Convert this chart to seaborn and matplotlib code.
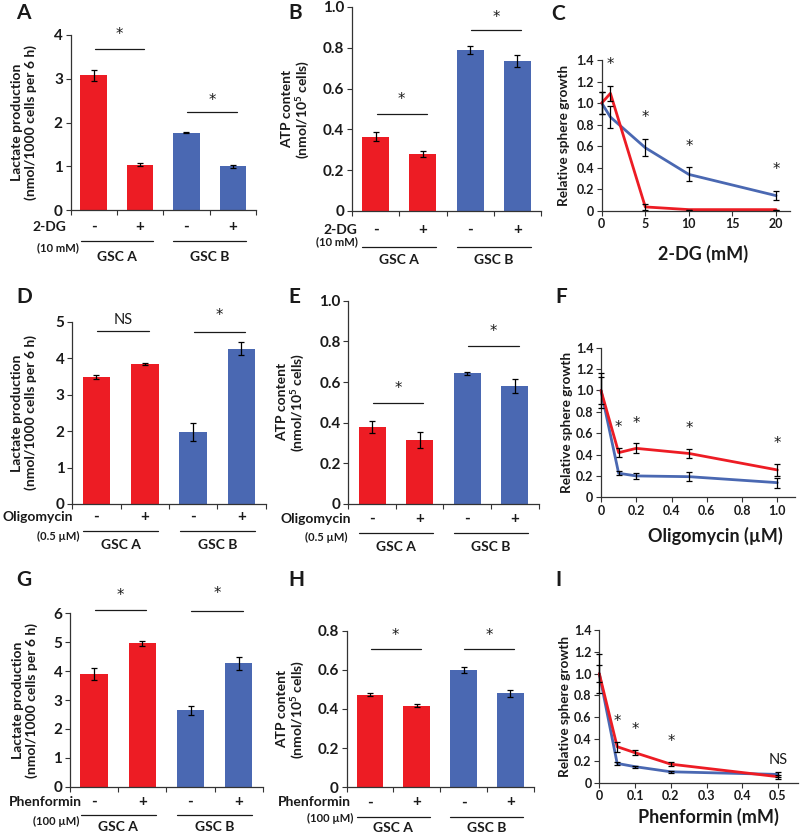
import matplotlib
matplotlib.use("Agg")
import matplotlib.pyplot as plt
import matplotlib.transforms as mtransforms
import numpy as np
import pandas as pd
import seaborn as sns

sns.set_theme(style="ticks")
plt.rcParams["font.family"] = ["Lato", "DejaVu Sans"]
plt.rcParams["font.weight"] = "bold"
plt.rcParams["mathtext.fontset"] = "custom"
plt.rcParams["mathtext.rm"] = "Lato:bold"
plt.rcParams["mathtext.it"] = "Lato:bold"
plt.rcParams["mathtext.bf"] = "Lato:bold"

RED = "#ED1C24"
BLUE = "#4A68B2"
INK = "#1a1a1a"

# ---- data ----
conds = ["A-", "A+", "B-", "B+"]
cell_line = ["GSC A", "GSC A", "GSC B", "GSC B"]
signs = ["-", "+", "-", "+"]
groups = ["GSC A", "GSC B"]

lac_2dg = [3.08, 1.04, 1.77, 1.00]
lac_2dg_err = [0.13, 0.04, 0.01, 0.03]
atp_2dg = [0.363, 0.281, 0.789, 0.737]
atp_2dg_err = [0.022, 0.015, 0.018, 0.030]

lac_oligo = [3.49, 3.83, 1.98, 4.26]
lac_oligo_err = [0.06, 0.03, 0.25, 0.18]
atp_oligo = [0.377, 0.315, 0.643, 0.580]
atp_oligo_err = [0.030, 0.040, 0.007, 0.036]

lac_phen = [3.91, 4.96, 2.64, 4.27]
lac_phen_err = [0.21, 0.075, 0.15, 0.22]
atp_phen = [0.473, 0.417, 0.599, 0.480]
atp_phen_err = [0.007, 0.009, 0.017, 0.017]

dose_2dg = [0, 1, 5, 10, 20]
sph_2dg_a = [1.0, 1.09, 0.035, 0.01, 0.01]
sph_2dg_a_err = [0.10, 0.07, 0.03, 0.0, 0.0]
sph_2dg_b = [1.0, 0.87, 0.585, 0.337, 0.14]
sph_2dg_b_err = [0.10, 0.10, 0.08, 0.065, 0.04]
star_2dg = [1.36, 0.87, 0.60, 0.38]

dose_oligo = [0, 0.1, 0.2, 0.5, 1.0]
sph_oligo_a = [1.0, 0.418, 0.458, 0.41, 0.256]
sph_oligo_a_err = [0.16, 0.044, 0.047, 0.044, 0.055]
sph_oligo_b = [1.0, 0.225, 0.20, 0.193, 0.137]
sph_oligo_b_err = [0.13, 0.02, 0.03, 0.04, 0.047]
star_oligo = [0.65, 0.69, 0.64, 0.50]

dose_phen = [0, 0.05, 0.1, 0.2, 0.5]
sph_phen_a = [1.0, 0.33, 0.275, 0.17, 0.055]
sph_phen_a_err = [0.18, 0.045, 0.025, 0.02, 0.02]
sph_phen_b = [1.0, 0.177, 0.147, 0.10, 0.076]
sph_phen_b_err = [0.08, 0.015, 0.01, 0.01, 0.025]
star_phen = [0.56, 0.49, 0.375]

fig = plt.figure(figsize=(8, 8.35), dpi=100)
W, H = 800, 835


def make_ax(left, right, top, bottom):
    ax = fig.add_axes([left / W, 1 - bottom / H, (right - left) / W, (bottom - top) / H])
    sns.despine(ax=ax)
    for s in ["left", "bottom"]:
        ax.spines[s].set_color("#333333")
        ax.spines[s].set_linewidth(0.9)
    ax.tick_params(direction="out", length=3.5, width=0.8, color="#333333",
                   pad=2, labelcolor=INK)
    ax.set_facecolor("white")
    return ax


def ylab(ax, text, right_px, left_px, width_px, size):
    ax.set_ylabel(text, fontsize=size, fontweight="bold", color=INK, linespacing=1.1)
    ax.yaxis.set_label_coords((right_px - left_px) / width_px, 0.5)


def below(ax, x, dy, text, size, ha="center", dx=0, axes_x=False, weight="bold"):
    if axes_x:
        xy, xyc = (0, 0), "axes fraction"
    else:
        xy, xyc = (x, 0), ("data", "axes fraction")
    ax.annotate(text, xy=xy, xycoords=xyc, xytext=(dx * 0.72, -dy * 0.72),
                textcoords="offset points", ha=ha, va="center", fontsize=size,
                fontweight=weight, color=INK, annotation_clip=False)


def sig_mark(ax, x, y, mark):
    if mark == "*":
        ax.text(x, y, mark, ha="center", va="center", fontsize=10.5,
                family="DejaVu Sans", fontweight="normal", color=INK, clip_on=False)
    else:
        ax.text(x, y, mark, ha="center", va="center", fontsize=10.5,
                fontweight="normal", color=INK, clip_on=False)


def bar_panel(box, vals, errs, yticks, ytl, ylabel, lab_right, treat, conc, sig, lay, tick_size=11):
    left, right, top, bottom = box
    ax = make_ax(left, right, top, bottom)
    df = pd.DataFrame({"cond": conds, "val": vals, "line": cell_line})
    sns.barplot(data=df, x="cond", y="val", hue="line", palette=[RED, BLUE],
                dodge=False, width=0.57, errorbar=None, legend=False, ax=ax,
                saturation=1, edgecolor="none")
    ax.errorbar(range(4), vals, yerr=errs, fmt="none", ecolor="black",
                elinewidth=0.9, capsize=2.3, capthick=0.9, zorder=3)
    ax.set_xlim(-0.5, 3.5)
    ax.set_ylim(yticks[0], yticks[-1])
    ax.set_yticks(yticks, ytl)
    ax.set_xticks([-0.5, 0.5, 1.5, 2.5, 3.5], [""] * 5)
    ax.set_xlabel("")
    ax.tick_params(axis="y", labelsize=tick_size)
    for t in ax.get_yticklabels():
        t.set_fontweight("bold")
    ylab(ax, ylabel, lab_right, left, right - left, 10)

    d_sign, d_name, d_conc, d_line, d_grp, dx_name, dx_conc = lay
    for i, s in enumerate(signs):
        below(ax, i, d_sign, s, 11)
    below(ax, 0, d_name, treat, 10, ha="right", dx=dx_name, axes_x=True)
    below(ax, 0, d_conc, conc, 8, ha="right", dx=dx_conc, axes_x=True)
    trans = mtransforms.blended_transform_factory(ax.transData, ax.transAxes) + \
        mtransforms.ScaledTranslation(0, -d_line / 100, fig.dpi_scale_trans)
    for g, x0 in zip(groups, [0, 2]):
        ax.plot([x0 - 0.28, x0 + 1.28], [0, 0], transform=trans, color=INK,
                lw=0.9, clip_on=False)
        below(ax, x0 + 0.5, d_grp, g, 10)

    for x0, (yl, ys, mark) in zip([0, 2], sig):
        ax.plot([x0 + 0.02, x0 + 1.08], [yl, yl], color=INK, lw=0.9, clip_on=False)
        sig_mark(ax, x0 + 0.55, ys, mark)
    return ax


def line_panel(box, dose, a, a_err, b, b_err, xmax, xticks, xtl, xlabel, xl_pos, lab_right, stars, star_x):
    left, right, top, bottom = box
    ax = make_ax(left, right, top, bottom)
    df = pd.DataFrame({"dose": dose * 2, "val": b + a,
                       "line": ["GSC B"] * len(dose) + ["GSC A"] * len(dose)})
    sns.lineplot(data=df, x="dose", y="val", hue="line", palette=[BLUE, RED],
                 lw=2.0, legend=False, ax=ax, clip_on=False)
    ax.errorbar(dose, b, yerr=b_err, fmt="none", ecolor="black", elinewidth=0.9,
                capsize=2.2, capthick=0.9, zorder=3, clip_on=False)
    ax.errorbar(dose, a, yerr=a_err, fmt="none", ecolor="black", elinewidth=0.9,
                capsize=2.2, capthick=0.9, zorder=3, clip_on=False)
    ax.set_xlim(0, xmax)
    ax.set_ylim(0, 1.4)
    yt = [0, 0.2, 0.4, 0.6, 0.8, 1.0, 1.2, 1.4]
    ax.set_yticks(yt, ["0", "0.2", "0.4", "0.6", "0.8", "1.0", "1.2", "1.4"])
    ax.set_xticks(xticks, xtl)
    ax.tick_params(labelsize=9)
    for t in ax.get_yticklabels() + ax.get_xticklabels():
        t.set_fontweight("bold")
    ax.set_ylabel("")
    ylab(ax, "Relative sphere growth", lab_right, left, right - left, 9.8)
    ax.set_xlabel(xlabel, fontsize=13, fontweight="bold", color=INK)
    ax.xaxis.label.set_va("center")
    ax.xaxis.set_label_coords(xl_pos[0], -xl_pos[1] / (bottom - top))
    for x, (mark, y) in zip(star_x, stars):
        sig_mark(ax, x, y, mark)
    return ax


lac_label = "Lactate production\n(nmol/1000 cells per 6 h)"
atp_label = "ATP content\n(nmol/10$^{5}$ cells)"
frac_ticks = [0, 0.2, 0.4, 0.6, 0.8, 1.0]
frac_tl = ["0", "0.2", "0.4", "0.6", "0.8", "1.0"]

# row 1
bar_panel((70.5, 256, 35, 210), lac_2dg, lac_2dg_err, [0, 1, 2, 3, 4],
          ["0", "1", "2", "3", "4"], lac_label, 37, "2-DG", "(10 mM)",
          [(3.67, 4.0, "*"), (2.24, 2.51, "*")], (17, 17, 38, 31, 47, -4, 8))
bar_panel((352, 541, 7, 211), atp_2dg, atp_2dg_err, frac_ticks, frac_tl,
          atp_label, 312, "2-DG", "(10 mM)",
          [(0.477, 0.547, "*"), (0.889, 0.948, "*")], (19, 19, 31, 36, 49, 5, 6))
line_panel((601.7, 790, 60, 210.7), dose_2dg, sph_2dg_a, sph_2dg_a_err, sph_2dg_b,
           sph_2dg_b_err, 21.6, [0, 5, 10, 15, 20], ["0", "5", "10", "15", "20"],
           "2-DG (mM)", (0.54, 43), 570,
           [("*", y) for y in star_2dg], [1, 5, 10, 20])

# row 2
bar_panel((72.3, 265.6, 321.7, 504), lac_oligo, lac_oligo_err, [0, 1, 2, 3, 4, 5],
          ["0", "1", "2", "3", "4", "5"], lac_label, 37, "Oligomycin", "(0.5 \u00b5M)",
          [(4.74, 5.06, "NS"), (4.73, 5.18, "*")], (13, 13, 32, 27, 41, 1, 7))
bar_panel((348.3, 538.6, 300.7, 504), atp_oligo, atp_oligo_err, frac_ticks, frac_tl,
          atp_label, 306.7, "Oligomycin", "(0.5 \u00b5M)",
          [(0.495, 0.569, "*"), (0.777, 0.848, "*")], (15, 15, 33, 29, 43, 3, -1))
line_panel((601, 795, 347.7, 497.3), dose_oligo, sph_oligo_a, sph_oligo_a_err,
           sph_oligo_b, sph_oligo_b_err, 1.1, [0, 0.2, 0.4, 0.6, 0.8, 1.0],
           ["0", "0.2", "0.4", "0.6", "0.8", "1.0"], "Oligomycin (\u00b5M)",
           (0.59, 39), 572.7, [("*", y) for y in star_oligo], [0.1, 0.2, 0.5, 1.0])

# row 3
bar_panel((70, 262.8, 613.3, 786.7), lac_phen, lac_phen_err, [0, 1, 2, 3, 4, 5, 6],
          ["0", "1", "2", "3", "4", "5", "6"], lac_label, 37.7, "Phenformin",
          "(100 \u00b5M)", [(6.11, 6.63, "*"), (6.09, 6.69, "*")],
          (15, 15, 35, 28, 40, 12, 9))
bar_panel((346.6, 533.7, 630.7, 787.3), atp_phen, atp_phen_err, [0, 0.2, 0.4, 0.6, 0.8],
          ["0", "0.2", "0.4", "0.6", "0.8"], atp_label, 306.7, "Phenformin",
          "(100 \u00b5M)", [(0.705, 0.778, "*"), (0.705, 0.778, "*")],
          (15, 15, 31, 30, 41, 4, 7))
line_panel((599.3, 798, 630, 782.7), dose_phen, sph_phen_a, sph_phen_a_err,
           sph_phen_b, sph_phen_b_err, 0.556, [0, 0.1, 0.2, 0.3, 0.4, 0.5],
           ["0", "0.1", "0.2", "0.3", "0.4", "0.5"], "Phenformin (mM)",
           (0.55, 34), 570.7,
           [("*", y) for y in star_phen] + [("NS", 0.21)], [0.05, 0.1, 0.2, 0.5])

# panel letters
letters = ["A", "B", "C", "D", "E", "F", "G", "H", "I"]
letter_x = [16, 288, 551, 16, 288, 555, 16, 288, 555]
letter_y = [3, 3, 4, 287, 287, 287, 570, 570, 570]
for L, x, y in zip(letters, letter_x, letter_y):
    fig.text(x / W, 1 - y / H, L, ha="left", va="top", fontsize=15,
             fontweight="bold", color=INK)

fig.savefig("out.png", dpi=100, facecolor="white")
